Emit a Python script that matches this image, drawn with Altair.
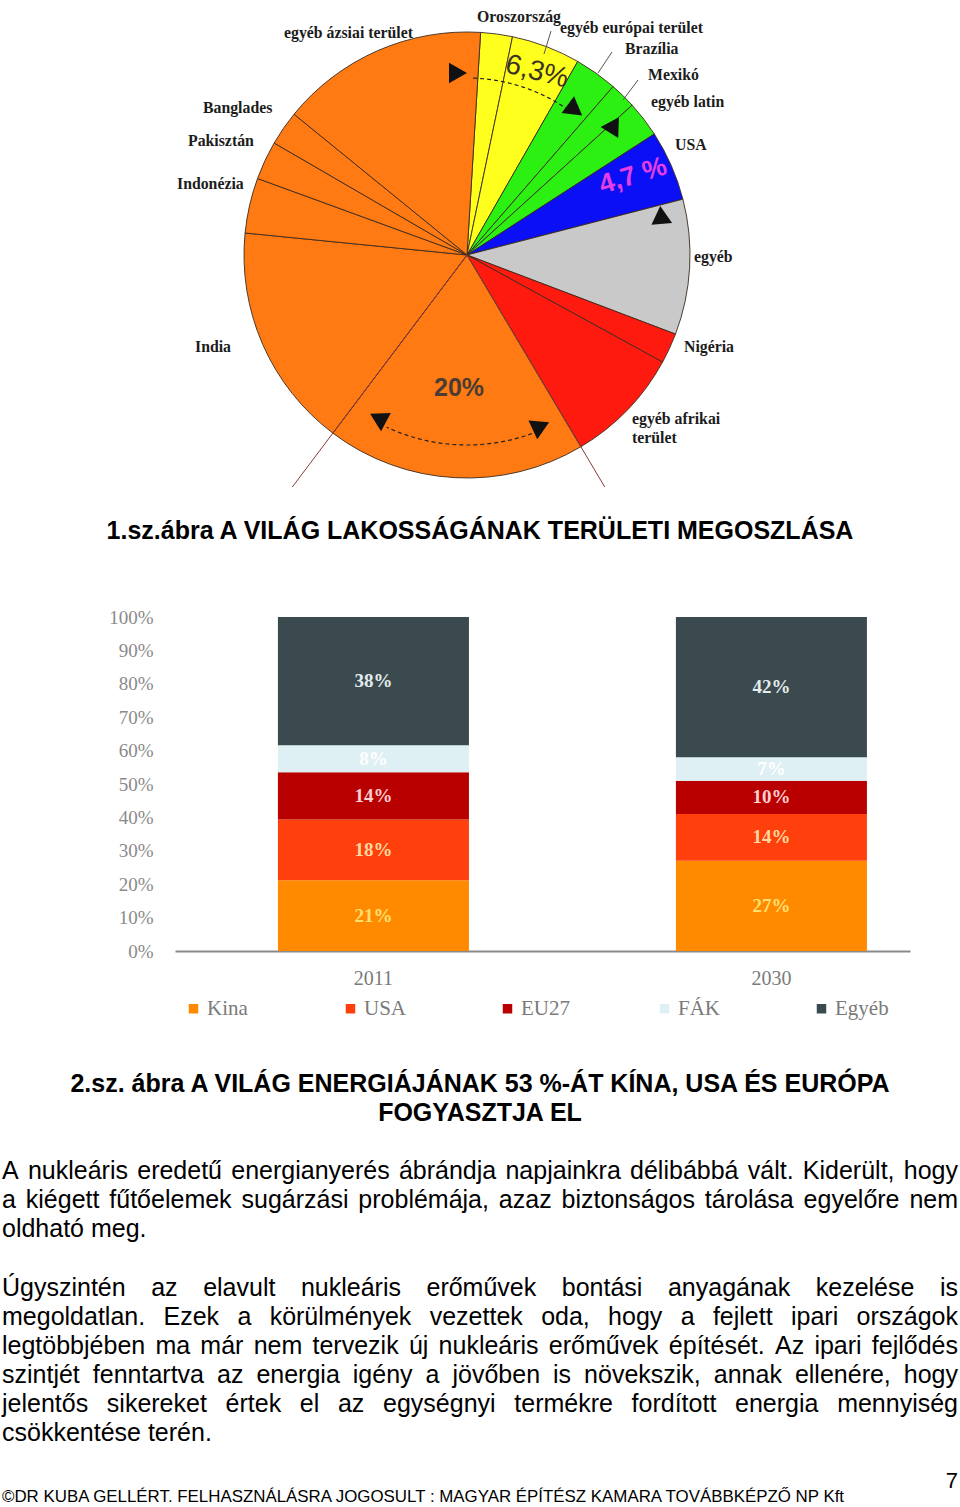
import math
import numpy as np
import pandas as pd
import altair as alt

# ---------------- page / plot frame ----------------
OX, OY = 175, 617          # page position of the bar chart plot origin
PW, PH = 735, 334          # bar chart plot size
PAGE_W, PAGE_H = 960, 1507

# ---------------- pie data (world population by region) ----------------
pie_regions = ["Oroszország", "egyéb európai terület", "Brazília", "Mexikó", "egyéb latin",
               "USA", "egyéb", "Nigéria", "egyéb afrikai", "Kína", "India", "Indonézia",
               "Pakisztán", "Banglades", "egyéb ázsiai terület"]
pie_shares = [2.3, 5.0, 3.1, 1.9, 2.6, 5.1, 9.8, 2.2, 8.5, 18.8, 16.3, 4.0, 2.8, 2.5, 15.1]
pie_colors = ["#ffff1e", "#ffff1e", "#2cef12", "#2cef12", "#2cef12", "#0a0ff5", "#c9c9c9",
              "#ff1a10", "#ff1a10", "#ff7a12", "#ff7a12", "#ff7a12", "#ff7a12", "#ff7a12", "#ff7a12"]
pie_start_deg = 3.5
pie_cx, pie_cy, pie_r = 467, 255, 223

pie_label_text = ["egyéb ázsiai terület", "Oroszország", "egyéb európai terület", "Brazília",
                  "Mexikó", "egyéb latin", "USA", "egyéb", "Nigéria", "egyéb afrikai", "terület",
                  "India", "Indonézia", "Pakisztán", "Banglades"]
pie_label_x = [284, 477, 560, 625, 648, 651, 675, 694, 684, 632, 632, 195, 177, 188, 203]
pie_label_y = [33, 17, 28, 49, 75, 102, 145, 257, 347, 419, 438, 347, 184, 141, 108]

# ---------------- stacked bar data (world energy use) ----------------
years = ["2011", "2030"]
categories = ["Kina", "USA", "EU27", "FÁK", "Egyéb"]
shares_2011 = [21, 18, 14, 8, 38]
shares_2030 = [27, 14, 10, 7, 42]
cat_colors = ["#ff8a00", "#ff400c", "#b80000", "#dff0f4", "#3b4a4e"]
cat_label_colors = ["#ffe070", "#ffd9a0", "#ffd0d0", "#ffffff", "#e4ecee"]
y_tick_values = [0.0, 0.1, 0.2, 0.3, 0.4, 0.5, 0.6, 0.7, 0.8, 0.9, 1.0]

# ---------------- texts ----------------
title1 = "1.sz.ábra A VILÁG LAKOSSÁGÁNAK TERÜLETI MEGOSZLÁSA"
title2 = ["2.sz. ábra A VILÁG ENERGIÁJÁNAK 53 %-ÁT KÍNA, USA ÉS EURÓPA", "FOGYASZTJA EL"]
para_lines = [
    "A nukleáris eredetű energianyerés ábrándja napjainkra délibábbá vált. Kiderült, hogy",
    "a kiégett fűtőelemek sugárzási problémája, azaz biztonságos tárolása egyelőre nem",
    "oldható meg.",
    "Úgyszintén az elavult nukleáris erőművek bontási anyagának kezelése is",
    "megoldatlan. Ezek a körülmények vezettek oda, hogy a fejlett ipari országok",
    "legtöbbjében ma már nem tervezik új nukleáris erőművek építését. Az ipari fejlődés",
    "szintjét fenntartva az energia igény a jövőben is növekszik, annak ellenére, hogy",
    "jelentős sikereket értek el az egységnyi termékre fordított energia mennyiség",
    "csökkentése terén.",
]
para_justified = [True, True, False, True, True, True, True, True, False]
para_baseline = [1179, 1208, 1237, 1296, 1325, 1354, 1383, 1412, 1441]
footer = "©DR KUBA GELLÉRT. FELHASZNÁLÁSRA JOGOSULT : MAGYAR ÉPÍTÉSZ KAMARA TOVÁBBKÉPZŐ NP Kft"
page_no = "7"

# Arial / Liberation Sans advance widths (1/1000 em) for justification
AW = {' ': 278, ',': 278, '-': 333, '.': 278, ':': 278, '%': 889, '©': 737}
for c in "0123456789":
    AW[c] = 556
AW.update(dict(A=667, B=667, C=722, D=722, E=667, F=611, G=778, H=722, I=278, J=500, K=667,
               L=556, M=833, N=722, O=778, P=667, Q=778, R=722, S=667, T=611, U=722, V=667,
               W=944, X=667, Y=667, Z=611))
AW.update({'Á': 667, 'É': 667, 'Í': 278, 'Ó': 778, 'Ö': 778, 'Ő': 778, 'Ú': 722, 'Ü': 722, 'Ű': 722})
AW.update(dict(a=556, b=556, c=500, d=556, e=556, f=278, g=556, h=556, i=222, j=222, k=500,
               l=222, m=833, n=556, o=556, p=556, q=556, r=333, s=500, t=278, u=556, v=500,
               w=722, x=500, y=500, z=500))
AW.update({'á': 556, 'é': 556, 'í': 278, 'ó': 556, 'ö': 556, 'ő': 556, 'ú': 556, 'ü': 556, 'ű': 556})


def text_width(s, size):
    return sum(AW.get(ch, 556) for ch in s) * size / 1000.0


BODY_SIZE = 25
LEFT, RIGHT = 2, 958

# ---------------- helpers ----------------
def px(x):
    return x - OX


def py(y):
    return y - OY


def pos(field):
    return alt.X(field, scale=None, axis=None)


def posy(field):
    return alt.Y(field, scale=None, axis=None)


# ---------------- bar chart ----------------
bar_rows = []
for yr, vals in zip(years, [shares_2011, shares_2030]):
    for k, (c, v) in enumerate(zip(categories, vals)):
        bar_rows.append(dict(year=yr, cat=c, value=v, ord=k, lab=f"{v}%",
                             lcol=cat_label_colors[k]))
bar_df = pd.DataFrame(bar_rows)

stack_base = alt.Chart(bar_df).transform_stack(
    stack="value", groupby=["year"], sort=[alt.SortField("ord", order="ascending")],
    as_=["y0", "y1"], offset="normalize")

x_scale = alt.Scale(paddingInner=0.52, paddingOuter=0.1834, align=0.705)
y_scale = alt.Scale(domain=[0, 1], nice=False)
x_axis = alt.Axis(title=None, labelAngle=0, ticks=False, grid=False,
                  domainColor="#8a8a8a", domainWidth=2,
                  labelFont="Liberation Serif", labelFontSize=20,
                  labelColor="#7a7a7a", labelPadding=17)
y_axis = alt.Axis(title=None, values=y_tick_values, format=".0%", ticks=False,
                  domain=False, grid=False, labelOverlap=False,
                  labelFont="Liberation Serif", labelFontSize=19,
                  labelColor="#8a8a8a", labelPadding=22)

bars = stack_base.mark_bar().encode(
    x=alt.X("year:N", sort=years, scale=x_scale, axis=x_axis),
    y=alt.Y("y0:Q", scale=y_scale, axis=y_axis),
    y2="y1:Q",
    color=alt.Color("cat:N", scale=alt.Scale(domain=categories, range=cat_colors),
                    legend=alt.Legend(title=None, orient="none", legendX=8, legendY=381,
                                      direction="horizontal", columns=5, gridAlign="all",
                                      columnPadding=79, symbolType="square", symbolSize=90,
                                      symbolStrokeWidth=0, labelFont="Liberation Serif",
                                      labelFontSize=21, labelColor="#7a7a7a", labelOffset=3,
                                      padding=0)),
)

bar_labels = stack_base.transform_calculate(mid="(datum.y0 + datum.y1) / 2").mark_text(
    font="Liberation Serif", fontWeight="bold", fontSize=19, baseline="middle").encode(
    x=alt.X("year:N", sort=years, scale=x_scale, axis=x_axis),
    y=alt.Y("mid:Q", scale=y_scale, axis=y_axis),
    text="lab:N",
    color=alt.Color("lcol:N", scale=None, legend=None),
)

# ---------------- pie ----------------
pie_df = pd.DataFrame(dict(region=pie_regions, share=pie_shares, col=pie_colors,
                           idx=list(range(len(pie_regions)))))
a0 = math.radians(pie_start_deg)
pie = alt.Chart(pie_df).mark_arc(outerRadius=pie_r, stroke="#3b2a1e", strokeWidth=0.9).encode(
    theta=alt.Theta("share:Q", stack=True,
                    scale=alt.Scale(domain=[0, sum(pie_shares)], range=[a0, a0 + 2 * math.pi])),
    color=alt.Color("col:N", scale=None, legend=None),
    order=alt.Order("idx:Q"),
    x=alt.value(px(pie_cx)),
    y=alt.value(py(pie_cy)),
)

pie_lab_df = pd.DataFrame(dict(t=pie_label_text, x=[px(v) for v in pie_label_x],
                               y=[py(v) for v in pie_label_y]))
pie_labels = alt.Chart(pie_lab_df).mark_text(
    font="Liberation Serif", fontWeight="bold", fontSize=15.8, color="#1c1c1c",
    align="left", baseline="middle").encode(x=pos("x:Q"), y=posy("y:Q"), text="t:N")

# leader lines of the labels
lead_x = [551, 612, 638]
lead_y = [31, 52, 80]
lead_x2 = [544, 598, 623]
lead_y2 = [54, 73, 100]
lead_df = pd.DataFrame(dict(x=[px(v) for v in lead_x], y=[py(v) for v in lead_y],
                            x2=[px(v) for v in lead_x2], y2=[py(v) for v in lead_y2]))
leads = alt.Chart(lead_df).mark_rule(color="#555", strokeWidth=1).encode(
    x=pos("x:Q"), y=posy("y:Q"), x2="x2:Q", y2="y2:Q")

# long lines bounding the Kína slice
cum = np.cumsum([0] + pie_shares)
ik = pie_regions.index("Kína")
kl = []
for frac in (cum[ik], cum[ik + 1]):
    a = math.radians(pie_start_deg + 360 * frac / sum(pie_shares))
    r = (487 - pie_cy) / (-math.cos(a))
    kl.append(dict(x=px(pie_cx), y=py(pie_cy), x2=px(pie_cx + r * math.sin(a)),
                   y2=py(pie_cy - r * math.cos(a))))
kina_lines = alt.Chart(pd.DataFrame(kl)).mark_rule(color="#8a3a3a", strokeWidth=1).encode(
    x=pos("x:Q"), y=posy("y:Q"), x2="x2:Q", y2="y2:Q")

# dashed arcs of the annotations
arc_specs = [(177, 2, 34), (190, 160, 205)]
arc_rows = []
for g, (r, d0, d1) in enumerate(arc_specs):
    for k, d in enumerate(np.linspace(d0, d1, 40)):
        a = math.radians(d)
        arc_rows.append(dict(g=g, k=k, x=px(pie_cx + r * math.sin(a)), y=py(pie_cy - r * math.cos(a))))
dash_arcs = alt.Chart(pd.DataFrame(arc_rows)).mark_line(
    color="#222", strokeWidth=1.2, strokeDash=[4, 3]).encode(
    x=pos("x:Q"), y=posy("y:Q"), detail="g:N", order="k:Q")

# arrow heads
arrow_x = [458, 575, 614, 661, 378, 541]
arrow_y = [73, 110, 130, 215, 418, 426]
arrow_rot = [0, 37, 62, 265, 208, 335]
arrows = alt.Chart(pd.DataFrame(dict(x=[px(v) for v in arrow_x], y=[py(v) for v in arrow_y],
                                     rot=arrow_rot))).mark_point(
    shape="triangle-right", filled=True, color="#111", size=430, opacity=1).encode(
    x=pos("x:Q"), y=posy("y:Q"), angle=alt.Angle("rot:Q", scale=None))

one = alt.Data(values=[{}])
pct63 = alt.Chart(one).mark_text(text="6,3%", font="Liberation Sans", fontSize=28,
                                 color="#3a3322", angle=14, align="center",
                                 baseline="middle").encode(x=alt.value(px(537)), y=alt.value(py(72)))
pct47 = alt.Chart(one).mark_text(text="4,7 %", font="Liberation Sans", fontSize=27,
                                 fontWeight="bold", color="#e23ee2", angle=343, align="center",
                                 baseline="middle").encode(x=alt.value(px(633)), y=alt.value(py(176)))
pct20 = alt.Chart(one).mark_text(text="20%", font="Liberation Sans", fontSize=25,
                                 fontWeight="bold", color="#4a3c33", align="center",
                                 baseline="middle").encode(x=alt.value(px(459)), y=alt.value(py(388)))

# ---------------- page texts ----------------
title_df = pd.DataFrame(dict(t=[title1] + title2, x=[px(480)] * 3,
                             y=[py(539), py(1092), py(1121)]))
titles = alt.Chart(title_df).mark_text(font="Liberation Sans", fontWeight="bold",
                                       fontSize=25, color="#000", align="center",
                                       baseline="alphabetic").encode(
    x=pos("x:Q"), y=posy("y:Q"), text="t:N")

body_rows = []
for line, just, yb in zip(para_lines, para_justified, para_baseline):
    words = line.split(" ")
    if just and len(words) > 1:
        ws = [text_width(w, BODY_SIZE) for w in words]
        gap = (RIGHT - LEFT - sum(ws)) / (len(words) - 1)
        x = LEFT
        for w, wd in zip(words, ws):
            body_rows.append(dict(t=w, x=px(x), y=py(yb)))
            x += wd + gap
    else:
        body_rows.append(dict(t=line, x=px(LEFT), y=py(yb)))
body = alt.Chart(pd.DataFrame(body_rows)).mark_text(
    font="Liberation Sans", fontSize=BODY_SIZE, color="#000", align="left",
    baseline="alphabetic").encode(x=pos("x:Q"), y=posy("y:Q"), text="t:N")

footer_size = 852 / (text_width(footer, 1000) / 1000)
foot = alt.Chart(pd.DataFrame(dict(t=[footer], x=[px(LEFT)], y=[py(1502)]))).mark_text(
    font="Liberation Sans", fontSize=footer_size, color="#000", align="left",
    baseline="alphabetic").encode(x=pos("x:Q"), y=posy("y:Q"), text="t:N")
pnum = alt.Chart(pd.DataFrame(dict(t=[page_no], x=[px(958)], y=[py(1488)]))).mark_text(
    font="Liberation Sans", fontSize=22, color="#000", align="right",
    baseline="alphabetic").encode(x=pos("x:Q"), y=posy("y:Q"), text="t:N")

chart = alt.layer(
    bars, bar_labels, pie, kina_lines, pie_labels, leads, dash_arcs, arrows,
    pct63, pct47, pct20, titles, body, foot, pnum
).resolve_scale(color="independent").properties(
    width=PW, height=PH,
    autosize=alt.AutoSizeParams(type="none"),
    padding={"left": OX, "top": OY, "right": PAGE_W - OX - PW, "bottom": PAGE_H - OY - PH},
    background="white",
).configure_view(stroke=None)

chart.save("out.html", embed_options={"renderer": "svg", "actions": False})
